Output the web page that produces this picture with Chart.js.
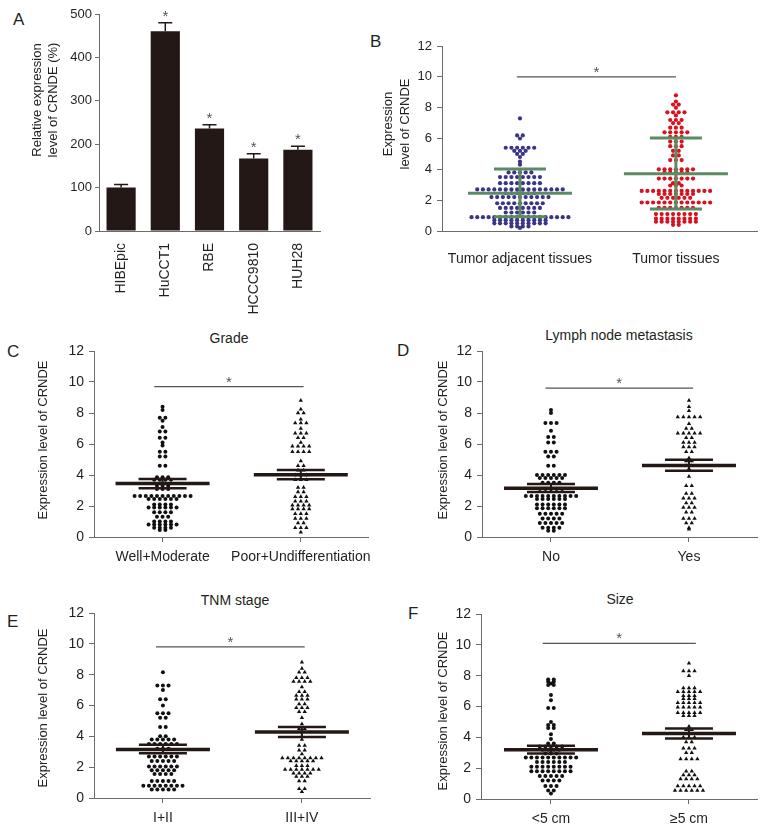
<!DOCTYPE html>
<html>
<head>
<meta charset="utf-8">
<script src="https://cdn.jsdelivr.net/npm/chart.js@4.4.1/dist/chart.umd.min.js"></script>
<style>
body { margin:0; background:#fff; width:765px; height:827px; position:relative; overflow:hidden;
       font-family:"Liberation Sans", Arial, sans-serif; color:#231f20; }
canvas { position:absolute; }
.lbl { position:absolute; font-size:17px; line-height:1; }
.ttl { position:absolute; font-size:14px; line-height:1; transform:translateX(-50%); white-space:nowrap; }
</style>
</head>
<body>
<div class="lbl" style="left:13px;top:11px">A</div>
<div class="lbl" style="left:370px;top:33px">B</div>
<div class="lbl" style="left:7px;top:343px">C</div>
<div class="lbl" style="left:397px;top:342px">D</div>
<div class="lbl" style="left:7px;top:613px">E</div>
<div class="lbl" style="left:408px;top:605px">F</div>

<div class="ttl" style="left:229px;top:331px">Grade</div>
<div class="ttl" style="left:619px;top:328px">Lymph node metastasis</div>
<div class="ttl" style="left:235px;top:593px">TNM stage</div>
<div class="ttl" style="left:620px;top:592px">Size</div>

<canvas id="chartA" width="330" height="321" style="left:0;top:0"></canvas>
<canvas id="chartB" width="405" height="250" style="left:360px;top:30px"></canvas>
<canvas id="chartC" width="380" height="238" style="left:0;top:330px"></canvas>
<canvas id="chartD" width="385" height="238" style="left:380px;top:330px"></canvas>
<canvas id="chartE" width="380" height="232" style="left:0;top:595px"></canvas>
<canvas id="chartF" width="385" height="232" style="left:380px;top:595px"></canvas>

<script>
// ---- panel A
const cellLines = ["HIBEpic", "HuCCT1", "RBE", "HCCC9810", "HUH28"];
const relExpr = [100, 460, 236, 167, 187];
const relErr = [7, 20, 9, 11, 8];
const relStar = [false, true, true, true, true];

// ---- panel B
const tissueGroups = ["Tumor adjacent tissues", "Tumor tissues"];
const adjacentVals = [
  7.3,
  6.2, 6.2, 6.0,
  5.4, 5.4, 5.4, 5.4, 5.4, 5.4,
  5.2, 5.2, 5.2, 5.0, 5.0, 4.8, 4.5, 4.3,
  3.8, 3.8, 3.8, 3.8, 3.8,
  3.5, 3.5, 3.5, 3.5, 3.5, 3.5, 3.5, 3.5,
  3.1, 3.1, 3.1, 3.1, 3.1, 3.1, 3.1, 3.1,
  2.7, 2.7, 2.7, 2.7, 2.7, 2.7, 2.7, 2.7, 2.7, 2.7, 2.7, 2.7, 2.7, 2.7, 2.7, 2.7,
  2.45, 2.45, 2.45, 2.45, 2.45, 2.45,
  2.2, 2.2, 2.2, 2.2, 2.2, 2.2, 2.2, 2.2, 2.2, 2.2, 2.2,
  1.8, 1.8, 1.8, 1.8, 1.8, 1.8, 1.8, 1.8, 1.8,
  1.5, 1.5, 1.5, 1.5, 1.5, 1.5, 1.5, 1.5,
  1.2, 1.2, 1.2, 1.2, 1.2, 1.2,
  0.9, 0.9, 0.9, 0.9, 0.9, 0.9, 0.9, 0.9, 0.9, 0.9, 0.9, 0.9, 0.9, 0.9, 0.9, 0.9, 0.9, 0.9,
  0.7, 0.7, 0.7, 0.7, 0.7, 0.7, 0.7, 0.7, 0.7, 0.7,
  0.5, 0.5, 0.5, 0.5, 0.5, 0.5, 0.5, 0.5, 0.5, 0.5,
  0.3, 0.3, 0.3, 0.3,
  0.2
];
const tumorVals = [
  8.8, 8.4, 8.2, 8.2, 8.0,
  7.7, 7.7, 7.7, 7.7, 7.5, 7.2, 7.2, 7.2, 7.0, 7.0,
  6.7, 6.7, 6.7, 6.4, 6.4, 6.4, 6.4, 6.4, 6.1, 6.1, 6.1,
  5.8, 5.8, 5.8, 5.5, 5.5, 5.5, 5.2, 5.2, 4.9, 4.9, 4.6, 4.6, 4.6,
  4.0, 4.0, 4.0, 4.0, 4.0, 4.0, 4.0,
  3.8, 3.8, 3.8, 3.8, 3.8,
  3.4, 3.4, 3.4, 3.4, 3.4, 3.4, 3.4,
  3.1, 3.1, 2.95, 2.95, 2.95,
  2.6, 2.6, 2.6, 2.6, 2.6, 2.6, 2.6, 2.6, 2.6, 2.6, 2.6, 2.6, 2.6,
  2.4, 2.4, 2.4, 2.4, 2.4, 2.4, 2.4,
  2.15, 2.15, 2.15, 2.15, 2.15, 2.15,
  1.85, 1.85, 1.85, 1.85, 1.85, 1.85, 1.85, 1.85, 1.85, 1.85, 1.85, 1.85, 1.85,
  1.5, 1.5, 1.5, 1.5, 1.5, 1.5, 1.5,
  1.1, 1.1, 1.1, 1.1, 1.1, 1.1, 1.1, 1.1,
  0.8, 0.8, 0.8, 0.8, 0.8, 0.8, 0.8, 0.8,
  0.6, 0.6, 0.6, 0.6, 0.6, 0.6, 0.6, 0.6,
  0.4, 0.4
];
const tissueMean = [2.45, 3.72];
const tissueUpper = [4.02, 6.03];
const tissueLower = [0.93, 1.42];

// ---- panel C
const gradeGroups = ["Well+Moderate", "Poor+Undifferentiation"];
const gradeLowVals = [
  8.4, 8.2, 7.7, 7.7, 7.5, 7.1, 6.8, 6.8, 6.4, 6.4, 6.1, 5.9, 5.5, 5.5, 5.2, 5.2, 4.6, 4.6,
  3.85, 3.85, 3.85, 3.7, 3.7, 3.7, 3.7, 3.3, 3.3, 3.3, 3.1, 3.1, 3.1,
  2.65, 2.65, 2.65, 2.65, 2.65, 2.65, 2.65, 2.65, 2.65, 2.65, 2.65,
  2.45, 2.45, 2.45, 2.45, 2.45, 2.45,
  2.1, 2.1, 2.1, 2.1,
  1.9, 1.9, 1.9, 1.9, 1.9, 1.9,
  1.6, 1.6, 1.6, 1.6, 1.3, 1.3, 1.3,
  1.0, 1.0, 1.0, 1.0, 0.8, 0.8, 0.8, 0.8, 0.8, 0.8,
  0.6, 0.6, 0.6, 0.6, 0.45, 0.45
];
const gradeHighVals = [
  8.8, 8.25, 8.0, 8.0, 7.6, 7.35, 7.35, 7.35, 7.0,
  6.7, 6.7, 6.7, 6.4, 6.4, 6.1, 5.85, 5.85, 5.85, 5.85, 5.5, 5.5, 5.5, 5.5,
  4.9, 4.6, 4.6, 4.3, 4.3, 4.0, 4.0, 4.0, 3.7, 3.7, 3.7,
  3.2, 3.2, 2.9, 2.9, 2.6, 2.6, 2.6, 2.3, 2.3, 2.3,
  2.05, 2.05, 2.05, 2.05, 1.8, 1.8, 1.8, 1.8, 1.5, 1.5, 1.5,
  1.2, 1.2, 1.2, 0.9, 0.9, 0.6, 0.6, 0.6, 0.3
];
const gradeMean = [3.45, 4.02];
const gradeUpper = [3.75, 4.32];
const gradeLower = [3.15, 3.72];

// ---- panel D
const lymphGroups = ["No", "Yes"];
const lymphNoVals = [
  8.2, 8.0, 7.35, 7.35, 7.35, 6.85, 6.45, 6.45, 6.1, 6.1, 5.5, 5.5, 5.5, 5.2, 5.2, 4.6, 4.6,
  4.0, 4.0, 4.0, 4.0, 4.0, 4.0, 3.8, 3.8, 3.8, 3.8, 3.8,
  3.5, 3.5, 3.5, 3.5, 3.1, 3.1, 3.1, 3.1, 3.1,
  2.65, 2.65, 2.65, 2.65, 2.65, 2.65, 2.65, 2.65, 2.65, 2.65,
  2.45, 2.45, 2.45, 2.45, 2.45, 2.45,
  2.1, 2.1, 2.1, 2.1, 2.1, 2.1, 1.85, 1.85, 1.85, 1.85, 1.85, 1.85,
  1.5, 1.5, 1.5, 1.5, 1.5, 1.2, 1.2, 1.2, 1.2,
  0.9, 0.9, 0.9, 0.9, 0.9, 0.6, 0.6, 0.6, 0.6, 0.4, 0.4
];
const lymphYesVals = [
  8.8, 8.4, 8.15, 7.75, 7.75, 7.75, 7.75, 7.75, 7.3, 7.0, 7.0,
  6.7, 6.7, 6.7, 6.7, 6.7, 6.4, 6.4, 6.1, 6.1, 6.1, 5.8, 5.8, 5.8, 5.5, 5.5,
  5.1, 4.9, 4.9, 4.6, 4.6, 4.4, 3.9, 3.3, 3.3, 2.8, 2.8,
  2.5, 2.5, 2.5, 2.2, 2.2, 1.9, 1.9, 1.9, 1.6, 1.6, 1.2, 1.2, 1.2, 0.9, 0.9, 0.6, 0.5
];
const lymphMean = [3.15, 4.62];
const lymphUpper = [3.42, 4.98];
const lymphLower = [2.9, 4.28];

// ---- panel E
const tnmGroups = ["I+II", "III+IV"];
const tnmEarlyVals = [
  8.15, 7.3, 7.3, 7.3, 7.0, 6.4, 6.4, 6.0, 5.5, 5.5, 5.5, 5.2, 5.2, 4.6, 4.6,
  4.0, 4.0, 3.8, 3.8, 3.8, 3.8, 3.8, 3.5, 3.5, 3.5, 3.5, 3.5, 3.5, 3.2, 3.2, 3.2,
  2.7, 2.7, 2.7, 2.7, 2.7, 2.7, 2.4, 2.4, 2.4, 2.4, 2.4,
  2.05, 2.05, 2.05, 2.05, 2.05, 2.05, 1.8, 1.8, 1.8, 1.8, 1.8,
  1.55, 1.55, 1.55, 1.55, 1.1, 1.1, 1.1, 1.1, 1.1,
  0.8, 0.8, 0.8, 0.8, 0.8, 0.8, 0.8, 0.8, 0.55, 0.55, 0.55, 0.55, 0.55
];
const tnmLateVals = [
  8.8, 8.4, 8.15, 8.15, 7.8, 7.8, 7.8, 7.55, 7.55, 7.55, 7.55, 7.2, 6.9, 6.9,
  6.65, 6.65, 6.65, 6.4, 6.4, 6.4, 6.1, 6.1, 5.85, 5.85, 5.85, 5.6, 5.6, 5.2, 4.8,
  4.5, 4.5, 4.3, 4.0, 3.8, 3.4, 3.4, 3.1, 3.1, 2.85,
  2.6, 2.6, 2.6, 2.6, 2.6, 2.6, 2.6, 2.6, 2.4, 2.4, 2.4, 2.4, 2.4, 2.1, 2.1, 2.1,
  1.85, 1.85, 1.85, 1.85, 1.85, 1.85, 1.85, 1.6, 1.6, 1.6, 1.6, 1.4, 1.4, 1.4,
  1.1, 1.1, 0.6, 0.6, 0.4
];
const tnmMean = [3.15, 4.28];
const tnmUpper = [3.45, 4.6];
const tnmLower = [2.9, 3.95];

// ---- panel F
const sizeGroups = ["<5 cm", "\u22655 cm"];
const sizeSmallVals = [
  7.75, 7.75, 7.6, 7.6, 7.5, 7.4, 7.4, 6.75, 6.4, 5.9, 5.9, 5.0, 4.8, 4.8, 4.6, 4.6, 4.2, 3.9,
  3.6, 3.6, 3.4, 3.4, 3.4, 3.4, 3.4, 3.2, 3.2, 3.2, 3.2, 2.95, 2.95, 2.95,
  2.7, 2.7, 2.7, 2.7, 2.7, 2.7, 2.7, 2.7, 2.7, 2.7, 2.4, 2.4, 2.4, 2.4, 2.4, 2.4,
  2.1, 2.1, 2.1, 2.1, 2.1, 2.1, 2.1, 2.1, 1.8, 1.8, 1.8, 1.8, 1.8, 1.8, 1.8, 1.8,
  1.5, 1.5, 1.5, 1.5, 1.5, 1.2, 1.2, 1.2, 1.2, 0.85, 0.85, 0.85, 0.55, 0.55, 0.35
];
const sizeLargeVals = [
  8.8, 8.3, 8.3, 8.3, 8.0, 7.2, 7.2, 7.2, 6.95, 6.95, 6.95, 6.95, 6.95,
  6.7, 6.7, 6.7, 6.5, 6.5, 6.5, 6.25, 6.25, 6.25, 6.25, 6.25,
  5.95, 5.95, 5.95, 5.95, 5.95, 5.6, 5.6, 5.6, 5.6, 5.6, 5.4, 5.4, 5.4,
  4.7, 4.5, 4.5, 4.0, 4.0, 4.0, 3.7, 3.7, 3.3, 3.3, 3.3, 3.0, 3.0,
  2.6, 2.6, 2.6, 2.6, 1.8, 1.8, 1.55, 1.55, 1.55, 1.3, 1.3, 1.3, 1.3,
  0.85, 0.85, 0.85, 0.85, 0.85, 0.55, 0.55, 0.55, 0.55, 0.55, 0.55
];
const sizeMean = [3.2, 4.25];
const sizeUpper = [3.45, 4.58];
const sizeLower = [2.95, 3.92];

const INK = "#231f20";
const AXIS = "#6b6b6b";
const FONT = '"Liberation Sans", Arial, sans-serif';

// rotated y axis titles, drawn at fixed spots in the canvas
const sideTitle = {
    id: "sideTitle",
    afterDraw(chart, args, o) {
        const ctx = chart.ctx;
        ctx.save();
        ctx.font = "13px " + FONT;
        ctx.fillStyle = INK;
        ctx.textAlign = "center";
        ctx.textBaseline = "middle";
        o.lines.forEach(l => {
            ctx.save();
            ctx.translate(l.x, l.y);
            ctx.rotate(-Math.PI / 2);
            ctx.fillText(l.text, 0, 0);
            ctx.restore();
        });
        ctx.restore();
    }
};

// error bars + stars for panel A
const barErrors = {
    id: "barErrors",
    afterDatasetsDraw(chart, args, o) {
        const ctx = chart.ctx, y = chart.scales.y;
        const vals = chart.data.datasets[0].data;
        ctx.save();
        ctx.strokeStyle = o.color;
        ctx.lineWidth = 1.5;
        chart.getDatasetMeta(0).data.forEach((bar, i) => {
            const top = y.getPixelForValue(vals[i] + o.err[i]);
            ctx.beginPath();
            ctx.moveTo(bar.x, y.getPixelForValue(vals[i]));
            ctx.lineTo(bar.x, top);
            ctx.moveTo(bar.x - 7, top);
            ctx.lineTo(bar.x + 7, top);
            ctx.stroke();
            if (o.star[i]) {
                ctx.fillStyle = "#555";
                ctx.font = "15px " + FONT;
                ctx.textAlign = "center";
                ctx.textBaseline = "alphabetic";
                ctx.fillText("*", bar.x, top - 2);
            }
        });
        ctx.restore();
    }
};

// mean / error lines and the significance bar for dot plots
const dotStats = {
    id: "dotStats",
    afterDatasetsDraw(chart, args, o) {
        const ctx = chart.ctx, x = chart.scales.x, y = chart.scales.y;
        const seg = (x1, y1, x2, y2) => { ctx.beginPath(); ctx.moveTo(x1, y1); ctx.lineTo(x2, y2); ctx.stroke(); };
        ctx.save();
        ctx.strokeStyle = o.color;
        ctx.lineCap = "butt";
        o.mean.forEach((m, i) => {
            const cx = x.getPixelForValue(i);
            const yu = y.getPixelForValue(o.upper[i]);
            const yl = y.getPixelForValue(o.lower[i]);
            ctx.lineWidth = o.vWidth;
            seg(cx, yu, cx, yl);
            ctx.lineWidth = o.capWidth;
            seg(cx - o.capHalf, yu, cx + o.capHalf, yu);
            seg(cx - o.capHalf, yl, cx + o.capHalf, yl);
            ctx.lineWidth = o.meanWidth;
            const ym = y.getPixelForValue(m);
            seg(cx - o.meanHalf, ym, cx + o.meanHalf, ym);
        });
        const ys = y.getPixelForValue(o.sigAt);
        const x1 = x.getPixelForValue(o.sigFrom), x2 = x.getPixelForValue(o.sigTo);
        ctx.strokeStyle = "#555";
        ctx.lineWidth = 1.3;
        seg(x1, ys, x2, ys);
        ctx.fillStyle = "#555";
        ctx.font = "15px " + FONT;
        ctx.textAlign = "center";
        ctx.textBaseline = "alphabetic";
        ctx.fillText("*", (x1 + x2) / 2, ys);
        ctx.restore();
    }
};

// beeswarm: points sharing a value are spread side by side around the group centre
function swarm(vals, center, step) {
    const rows = new Map();
    vals.forEach(v => {
        const k = v.toFixed(2);
        if (!rows.has(k)) rows.set(k, []);
        rows.get(k).push(v);
    });
    const pts = [];
    rows.forEach(list => {
        list.forEach((v, k) => pts.push({ x: center + (k - (list.length - 1) / 2) * step, y: v }));
    });
    return pts;
}

function yScale(o) {
    return {
        min: 0, max: 12,
        ticks: { stepSize: 2, color: INK, font: { size: o.tickSize, family: FONT }, padding: o.tickPad },
        grid: { drawOnChartArea: false, tickLength: 5, color: AXIS },
        border: { color: AXIS },
        afterFit: s => { s.width = o.yW; }
    };
}

function dotChart(id, o) {
    const chart = new Chart(document.getElementById(id), {
        type: "scatter",
        data: {
            datasets: o.groups.map((g, i) => ({
                data: [],
                pointStyle: o.shapes[i],
                radius: o.radii[i],
                backgroundColor: o.colors[i],
                borderWidth: 0
            }))
        },
        options: {
            responsive: false,
            animation: false,
            layout: { padding: o.pad },
            plugins: {
                legend: { display: false },
                tooltip: { enabled: false },
                dotStats: o.stats,
                sideTitle: { lines: o.side }
            },
            scales: {
                x: {
                    type: "linear",
                    min: o.xMin, max: o.xMax,
                    afterBuildTicks: s => { s.ticks = [{ value: 0 }, { value: 1 }]; },
                    ticks: { callback: v => o.labels[v], color: INK, font: { size: 14, family: FONT }, padding: o.xPad },
                    grid: { drawOnChartArea: false, drawTicks: o.xTick > 0, tickLength: o.xTick, color: AXIS },
                    border: { color: AXIS },
                    afterFit: s => { s.height = o.xH; }
                },
                y: yScale(o)
            }
        },
        plugins: [dotStats, sideTitle]
    });
    const px = chart.scales.x.getPixelForValue(1) - chart.scales.x.getPixelForValue(0);
    chart.data.datasets.forEach((ds, i) => { ds.data = swarm(o.groups[i], i, o.gap / px); });
    chart.update("none");
}

// panel A
new Chart(document.getElementById("chartA"), {
    type: "bar",
    data: {
        labels: cellLines,
        datasets: [{ data: relExpr, backgroundColor: "#231815", barPercentage: 0.66, categoryPercentage: 1 }]
    },
    options: {
        responsive: false,
        animation: false,
        layout: { padding: { left: 0, top: 14, right: 10, bottom: 0 } },
        plugins: {
            legend: { display: false },
            tooltip: { enabled: false },
            barErrors: { err: relErr, star: relStar, color: "#231815" },
            sideTitle: { lines: [
                { text: "Relative expression", x: 37, y: 100 },
                { text: "level of CRNDE (%)", x: 53, y: 100 }
            ] }
        },
        scales: {
            x: {
                grid: { display: false },
                border: { color: AXIS },
                ticks: { autoSkip: false, minRotation: 90, maxRotation: 90, color: INK, font: { size: 14, family: FONT }, padding: 4 },
                afterFit: s => { s.height = 90; }
            },
            y: {
                min: 0, max: 500,
                ticks: { stepSize: 100, color: INK, font: { size: 13, family: FONT }, padding: 3 },
                grid: { drawOnChartArea: false, tickLength: 4, color: AXIS },
                border: { color: AXIS },
                afterFit: s => { s.width = 99; }
            }
        }
    },
    plugins: [barErrors, sideTitle]
});

// panel B
dotChart("chartB", {
    groups: [adjacentVals, tumorVals], labels: tissueGroups,
    shapes: ["circle", "circle"], radii: [2.1, 2.1], colors: ["#3a3587", "#d8111e"], gap: 5.7,
    pad: { left: 0, top: 16, right: 8, bottom: 0 }, yW: 82, xH: 49, xMin: -0.5, xMax: 1.52,
    xTick: 0, xPad: 20, tickSize: 13, tickPad: 5,
    side: [{ text: "Expression", x: 28, y: 94 }, { text: "level of CRNDE", x: 45, y: 94 }],
    stats: { mean: tissueMean, upper: tissueUpper, lower: tissueLower, color: "#5c8b63",
             meanHalf: 52, meanWidth: 3, capHalf: 26, capWidth: 3, vWidth: 3,
             sigAt: 10.0, sigFrom: -0.02, sigTo: 1.0 }
});

const dotCommon = {
    shapes: ["circle", "triangle"], radii: [2.0, 2.5], colors: ["#111", "#111"], gap: 5.6,
    xTick: 5, xPad: 7, tickSize: 14, tickPad: 5
};
const statStyle = { color: "#231815", meanHalf: 47, meanWidth: 3.5, capHalf: 24, capWidth: 2.5, vWidth: 2 };

// panel C
dotChart("chartC", Object.assign({}, dotCommon, {
    groups: [gradeLowVals, gradeHighVals], labels: gradeGroups,
    pad: { left: 0, top: 21, right: 10, bottom: 0 }, yW: 94, xH: 31, xMin: -0.496, xMax: 1.49,
    side: [{ text: "Expression level of CRNDE", x: 43, y: 110 }],
    stats: Object.assign({ mean: gradeMean, upper: gradeUpper, lower: gradeLower, sigAt: 9.7, sigFrom: -0.06, sigTo: 1.02 }, statStyle)
}));

// panel D
dotChart("chartD", Object.assign({}, dotCommon, {
    groups: [lymphNoVals, lymphYesVals], labels: lymphGroups,
    pad: { left: 0, top: 21, right: 8, bottom: 0 }, yW: 102, xH: 31, xMin: -0.5, xMax: 1.493,
    side: [{ text: "Expression level of CRNDE", x: 63, y: 110 }],
    stats: Object.assign({ mean: lymphMean, upper: lymphUpper, lower: lymphLower, sigAt: 9.6, sigFrom: -0.04, sigTo: 1.03 }, statStyle)
}));

// panel E
dotChart("chartE", Object.assign({}, dotCommon, {
    groups: [tnmEarlyVals, tnmLateVals], labels: tnmGroups,
    pad: { left: 0, top: 18, right: 10, bottom: 0 }, yW: 94, xH: 29, xMin: -0.496, xMax: 1.49,
    side: [{ text: "Expression level of CRNDE", x: 43, y: 113 }],
    stats: Object.assign({ mean: tnmMean, upper: tnmUpper, lower: tnmLower, sigAt: 9.8, sigFrom: -0.05, sigTo: 1.02 }, statStyle)
}));

// panel F
dotChart("chartF", Object.assign({}, dotCommon, {
    groups: [sizeSmallVals, sizeLargeVals], labels: sizeGroups,
    pad: { left: 0, top: 19, right: 8, bottom: 0 }, yW: 101, xH: 28, xMin: -0.507, xMax: 1.493,
    side: [{ text: "Expression level of CRNDE", x: 63, y: 116 }],
    stats: Object.assign({ mean: sizeMean, upper: sizeUpper, lower: sizeLower, sigAt: 10.1, sigFrom: -0.06, sigTo: 1.05 }, statStyle)
}));
</script>
</body>
</html>
